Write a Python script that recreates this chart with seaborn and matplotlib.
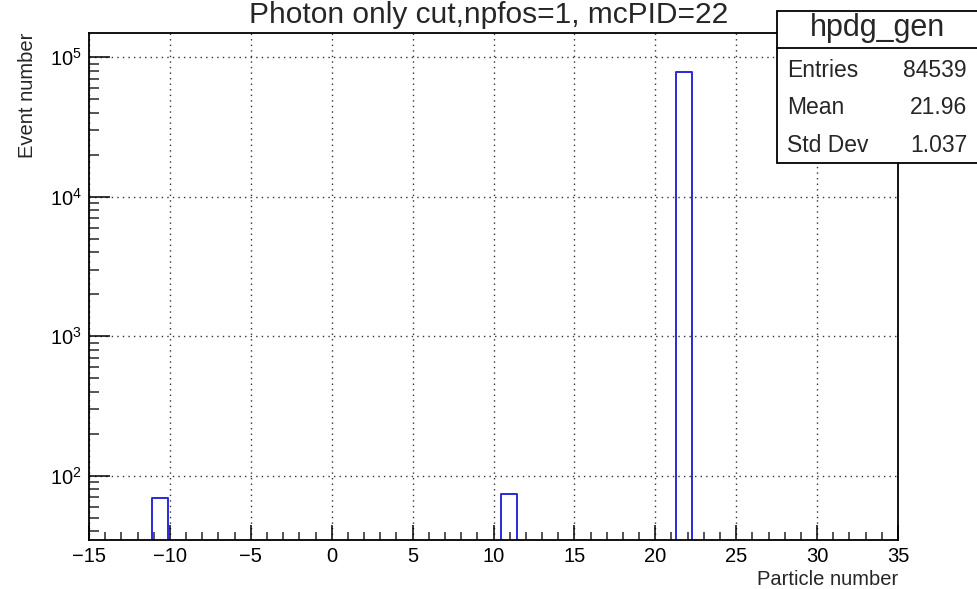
import numpy as np
import pandas as pd
import matplotlib
matplotlib.use("Agg")
import matplotlib.pyplot as plt
import seaborn as sns
from matplotlib.ticker import MultipleLocator, LogLocator, NullFormatter, FixedLocator, FixedFormatter

# Particle IDs and their event counts (histogram hpdg_gen)
particle_ids = [-11, 11, 22]
event_counts = [69, 74, 78500]

# Histogram binning: 51 bins over [-15, 35]
x_min, x_max, n_bins = -15, 35, 51

# Statistics box entries
stats_title = "hpdg_gen"
stats_labels = ["Entries", "Mean", "Std Dev"]
stats_values = ["84539", "21.96", "1.037"]

title_text = "Photon only cut,npfos=1, mcPID=22"
y_decades = [100, 1000, 10000, 100000]
y_decade_labels = [r"$\mathregular{10^{2}}$", r"$\mathregular{10^{3}}$",
                   r"$\mathregular{10^{4}}$", r"$\mathregular{10^{5}}$"]

sns.set_style("ticks")
plt.rcParams["font.family"] = ["Liberation Sans", "DejaVu Sans"]
plt.rcParams["mathtext.default"] = "regular"
plt.rcParams["axes.unicode_minus"] = True

fig = plt.figure(figsize=(9.77, 5.89), dpi=100)
ax = fig.add_axes([89 / 977, 1 - 540 / 589, (898 - 89) / 977, (540 - 33) / 589])

df = pd.DataFrame({"pid": particle_ids, "count": event_counts})
edges = [x_min + (x_max - x_min) * k / n_bins for k in range(n_bins + 1)]
sns.histplot(data=df, x="pid", weights="count", bins=edges, fill=False,
             element="step", color="#2a2ad8", linewidth=1.4, ax=ax)

ax.set_yscale("log")
ax.set_xlim(x_min, x_max)
ax.set_ylim(34.6, 1.49e5)

# Axis ticks, drawn inward in the ROOT style
ax.xaxis.set_major_locator(MultipleLocator(5))
ax.xaxis.set_minor_locator(MultipleLocator(1))
ax.yaxis.set_major_locator(FixedLocator(y_decades))
ax.yaxis.set_major_formatter(FixedFormatter(y_decade_labels))
ax.yaxis.set_minor_locator(LogLocator(base=10, subs=np.arange(2, 10)))
ax.yaxis.set_minor_formatter(NullFormatter())

ax.tick_params(axis="x", which="major", direction="in", length=11, width=1.1,
               labelsize=14.5, pad=5, colors="black")
ax.tick_params(axis="x", which="minor", direction="in", length=5.5, width=1.1)
ax.tick_params(axis="y", which="major", direction="in", length=15, width=1.1,
               labelsize=14.5, pad=5, colors="black")
ax.tick_params(axis="y", which="minor", direction="in", length=7.5, width=1.1)
ax.tick_params(top=False, right=False, which="both")

for side in ["left", "right", "top", "bottom"]:
    ax.spines[side].set_visible(True)
    ax.spines[side].set_linewidth(1.3)
    ax.spines[side].set_color("black")

ax.grid(True, which="major", color="#333333", linestyle=(0, (1, 3)), linewidth=1.0)
ax.set_axisbelow(True)

ax.set_xlabel("Particle number", fontsize=14.5, loc="right", labelpad=3)
ax.set_ylabel("Event number", fontsize=14.5, loc="top", labelpad=9)

# Title above the frame
fig.text(0.5, 1 - 23 / 589, title_text, ha="center", va="baseline", fontsize=21.5)

# Statistics box
bx0, by_top, by_bot, bx1 = 777, 11, 163, 990
sep_y = 48
box = plt.Rectangle((bx0 / 977, 1 - by_bot / 589), (bx1 - bx0) / 977,
                    (by_bot - by_top) / 589, transform=fig.transFigure,
                    facecolor="white", edgecolor="black", linewidth=1.3,
                    zorder=10, clip_on=False)
fig.add_artist(box)
fig.add_artist(plt.Line2D([bx0 / 977, bx1 / 977], [1 - sep_y / 589, 1 - sep_y / 589],
                          transform=fig.transFigure, color="black", linewidth=1.3,
                          zorder=11))
fig.text(878 / 977, 1 - 36 / 589, stats_title, ha="center", va="baseline",
         fontsize=22, zorder=12)
for i, (lab, val) in enumerate(zip(stats_labels, stats_values)):
    yb = 1 - (77 + 37.5 * i) / 589
    fig.text(787 / 977, yb, lab, ha="left", va="baseline", fontsize=16.5, zorder=12)
    fig.text(967 / 977, yb, val, ha="right", va="baseline", fontsize=16.5, zorder=12)

fig.savefig("out.png", dpi=100)
